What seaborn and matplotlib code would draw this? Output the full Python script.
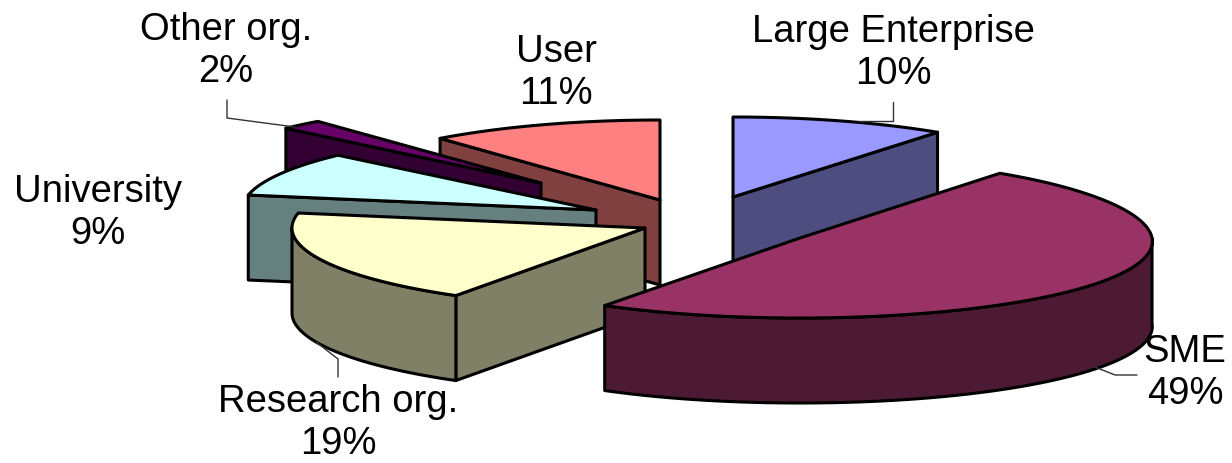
import numpy as np
import matplotlib
matplotlib.use("Agg")
import matplotlib.pyplot as plt
import seaborn as sns

# --- data, clockwise from 12 o'clock ---
names = ['Large Enterprise', 'SME', 'Research org.', 'University', 'Other org.', 'User']
shares = [10, 49, 19, 9, 2, 11]

top_colors = sns.color_palette(['#9999FF', '#993366', '#FFFFCC', '#CCFFFF', '#660066', '#FF8080'])
wall_colors = sns.color_palette(['#4D4D80', '#4D1A33', '#808066', '#668080', '#330033', '#804040'])

# exploded position of each slice, and the pie's shape
centers = [(733, 197), (800, 238), (645, 228), (596, 210), (541, 183), (660, 200)]
radii_x = [348, 352, 353, 354, 350, 345]
widen = [0, 0.042, 0, 0, 0, 0]  # the near side of the big slice looks a bit wider
RY, DEPTH = 80, 85
draw_order = [0, 5, 4, 3, 2, 1]

label_pos = [(893, 53), (1185, 373), (338, 423), (98, 213), (226, 51), (556, 73)]
leaders = [
    [(893, 102), (893, 121), (858, 121)],
    [(1137, 375), (1115, 375), (1095, 367)],
    [(338, 377), (338, 359), (316, 342)],
    [],
    [(227, 100), (227, 118), (295, 127)],
    [],
]

sns.set_style("white")
plt.rcParams['font.family'] = ['Liberation Sans', 'DejaVu Sans']

fig = plt.figure(figsize=(12.32, 4.63), dpi=100)
ax = fig.add_axes([0, 0, 1, 1])
ax.set_xlim(0, 1232)
ax.set_ylim(463, 0)
ax.axis('off')


def ring(i, a, b):
    # angles are degrees clockwise from the top of the pie
    cx, cy = centers[i]
    t = np.radians(np.linspace(a, b, max(int(abs(b - a)) * 2, 2)))
    return cx + radii_x[i] * np.sin(t) * (1 - widen[i] * np.cos(t)), cy - RY * np.cos(t)


def face(xs, ys, color, z):
    ax.fill(xs, ys, facecolor=color, edgecolor='black', linewidth=2.2,
            joinstyle='round', zorder=z)


edges = np.cumsum([0] + shares) * 3.6
for z, i in enumerate(draw_order):
    cx, cy = centers[i]
    a, b = edges[i], edges[i + 1]
    base = z * 10
    x, y = ring(i, a, b)

    # cut faces, only those turned to the viewer
    if np.sin(np.radians(a)) < 0:
        face([cx, x[0], x[0], cx], [cy, y[0], y[0] + DEPTH, cy + DEPTH], wall_colors[i], base + 1)
    if np.sin(np.radians(b)) > 0:
        face([cx, x[-1], x[-1], cx], [cy, y[-1], y[-1] + DEPTH, cy + DEPTH], wall_colors[i], base + 1)

    # outer wall, only the part of the rim that faces the viewer
    lo, hi = max(a, 90), min(b, 270)
    if lo < hi:
        wx, wy = ring(i, lo, hi)
        face(np.r_[wx, wx[::-1]], np.r_[wy, wy[::-1] + DEPTH], wall_colors[i], base + 2)

    # top
    face(np.r_[cx, x], np.r_[cy, y], top_colors[i], base + 3)

for name, share, pos, leader in zip(names, shares, label_pos, leaders):
    ax.text(pos[0], pos[1], f"{name}\n{share}%", ha='center', va='center',
            fontsize=27.5, linespacing=1.22, color='black', zorder=200)
    if leader:
        lx, ly = zip(*leader)
        ax.plot(lx, ly, color='#333333', linewidth=1, zorder=150)

fig.savefig('out.png', dpi=100, facecolor='white')
